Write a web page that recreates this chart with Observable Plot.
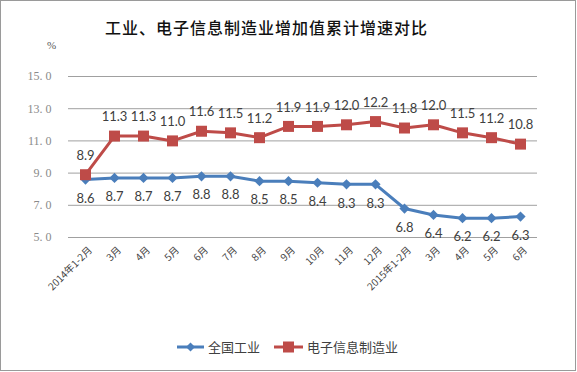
<!DOCTYPE html>
<html><head><meta charset="utf-8">
<script src="https://cdn.jsdelivr.net/npm/d3@7"></script>
<script src="https://cdn.jsdelivr.net/npm/@observablehq/plot@0.6"></script>
<style>
body{margin:0;background:#fff;}
#wrap{position:relative;width:577px;height:372px;overflow:hidden;background:#fff;}
#frame{position:absolute;left:0;top:0;width:574px;height:369px;border:1.5px solid #9a9a9a;box-sizing:content-box;pointer-events:none;}
#title{position:absolute;left:0;width:533px;top:15px;text-align:center;font-family:"Noto Sans CJK SC";font-weight:500;font-size:16px;letter-spacing:1px;color:#111;}
#unit{position:absolute;left:47px;top:39px;font-family:"Liberation Serif";font-size:11px;color:#555;}
#legend{position:absolute;top:337px;left:177px;font-family:"Noto Sans CJK SC";font-size:13px;color:#404040;display:flex;align-items:center;}
#legend .item{display:flex;align-items:center;margin-right:14px;}
#legend svg{margin-right:4px;}
#chart{position:absolute;left:0;top:0;}
</style></head>
<body>
<div id="wrap">
<div id="chart"></div>
<div id="title">工业、电子信息制造业增加值累计增速对比</div>
<div id="unit">%</div>
<div id="legend">
 <div class="item"><svg width="27" height="12"><line x1="0" y1="6" x2="27" y2="6" stroke="#4a7ebb" stroke-width="3"/><path d="M13.5,1.5 L18,6 L13.5,10.5 L9,6Z" fill="#4a7ebb"/></svg><span>全国工业</span></div>
 <div class="item"><svg width="29" height="12"><line x1="0" y1="6" x2="29" y2="6" stroke="#be4b48" stroke-width="3"/><rect x="9" y="0.5" width="11" height="11" fill="#be4b48"/></svg><span>电子信息制造业</span></div>
</div>
<div id="frame"></div>
</div>
<script>
const months = ["2014年1-2月","3月","4月","5月","6月","7月","8月","9月","10月","11月","12月","2015年1-2月","3月","4月","5月","6月"];
const industry = [8.6,8.7,8.7,8.7,8.8,8.8,8.5,8.5,8.4,8.3,8.3,6.8,6.4,6.2,6.2,6.3];
const electronics = [8.9,11.3,11.3,11.0,11.6,11.5,11.2,11.9,11.9,12.0,12.2,11.8,12.0,11.5,11.2,10.8];
const yTicks = [5,7,9,11,13,15];

const keys = months.map((m,i)=>i);
const blue = keys.map(i=>({k:i, v:industry[i]}));
const red = keys.map(i=>({k:i, v:electronics[i]}));
const labelFont = "Lato, 'Open Sans', sans-serif";

const chart = Plot.plot({
  width: 577, height: 372,
  marginTop: 76, marginBottom: 135, marginLeft: 68, marginRight: 40,
  style: {background: "transparent", overflow: "visible"},
  x: {type: "point", domain: keys, padding: 0.5, align: 0.5, label: null},
  y: {domain: [5, 15], label: null},
  marks: [
    Plot.ruleY(yTicks, {stroke: "#a0a0a0", strokeWidth: 1}),
    Plot.axisY({ticks: yTicks, tickSize: 0, tickPadding: 17, label: null, tickFormat: d => d.toFixed(1).replace(".", ".\u00a0"),
      fontFamily: "Liberation Serif", fontSize: 12, fill: "#8a8a8a"}),
    Plot.axisX({tickSize: 0, tickPadding: 11, tickRotate: -45, label: null, tickFormat: i => months[i],
      fontFamily: "'Noto Sans CJK SC'", fontSize: 10, fill: "#444", dx: 5}),
    Plot.line(blue, {x: "k", y: "v", stroke: "#4a7ebb", strokeWidth: 3}),
    Plot.line(red, {x: "k", y: "v", stroke: "#be4b48", strokeWidth: 3}),
    Plot.dot(blue, {x: "k", y: "v", symbol: "diamond2", r: 4.6, fill: "#4a7ebb", stroke: "none"}),
    Plot.dot(red, {x: "k", y: "v", symbol: "square", r: 6.2, fill: "#be4b48", stroke: "none"}),
    Plot.text(blue, {x: "k", y: "v", text: d => d.v.toFixed(1), dy: 19, fontFamily: labelFont, fontSize: 13, fill: "#404040"}),
    Plot.text(red, {x: "k", y: "v", text: d => d.v.toFixed(1), dy: -19, fontFamily: labelFont, fontSize: 13, fill: "#404040"})
  ]
});
document.getElementById("chart").appendChild(chart);
</script>
</body></html>
